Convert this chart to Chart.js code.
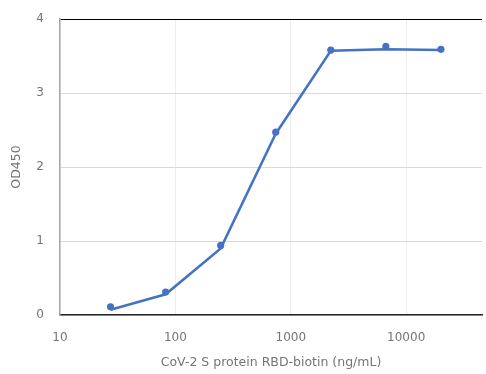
<!DOCTYPE html>
<html>
<head>
<meta charset="utf-8">
<script src="https://cdn.jsdelivr.net/npm/chart.js@4"></script>
<style>
  html, body { margin: 0; padding: 0; background: #fff; }
  #wrap { width: 486px; height: 374px; position: relative; }
</style>
</head>
<body>
<div id="wrap"><canvas id="graph"></canvas></div>
<script>
// concentrations (ng/mL), 3-fold dilution
var conc = [27.4, 82.3, 246.9, 740.7, 2222, 6667, 20000];
// measured OD450 (markers)
var od = [0.11, 0.31, 0.94, 2.47, 3.58, 3.63, 3.59];
// trend line drawn through the points
var odLine = [0.07, 0.28, 0.90, 2.45, 3.57, 3.59, 3.58];
var xTicks = [10, 100, 1000, 10000];
var yTicks = [0, 1, 2, 3, 4];

var blue = "#4472C4";
var textGray = "#757575";

function pts(ys) {
  return conc.map(function (c, i) { return { x: c, y: ys[i] }; });
}

var ctx = document.querySelector("#graph");
var graph = new Chart(ctx, {
  type: "scatter",
  data: {
    datasets: [
      {
        label: "line",
        data: pts(odLine),
        showLine: true,
        borderColor: blue,
        borderWidth: 2.5,
        pointRadius: 0,
        fill: false,
      },
      {
        label: "OD450",
        data: pts(od),
        backgroundColor: blue,
        borderColor: blue,
        pointRadius: 3.6,
        borderWidth: 0,
      },
    ],
  },
  options: {
    responsive: true,
    maintainAspectRatio: false,
    animation: false,
    layout: { padding: { top: 19, right: 0, left: 0, bottom: 0 } },
    plugins: { legend: { display: false }, tooltip: { enabled: false } },
    scales: {
      x: {
        type: "logarithmic",
        min: 10,
        max: 45400,
        afterBuildTicks: function (axis) {
          axis.ticks = xTicks.map(function (v) { return { value: v }; });
        },
        afterFit: function (axis) {
          axis.height = 59;
          axis.paddingRight = 0;
        },
        border: { color: "#262626", width: 1.5 },
        grid: { color: "#eeeeee", lineWidth: 1, drawTicks: false },
        ticks: {
          color: textGray,
          font: { family: "DejaVu Sans", size: 12 },
          padding: 16,
          maxRotation: 0,
          autoSkip: false,
          callback: function (v) { return String(v); },
        },
        title: {
          display: true,
          text: "CoV-2 S protein RBD-biotin (ng/mL)",
          color: textGray,
          font: { family: "DejaVu Sans", size: 12.5 },
          padding: { top: 12 },
        },
      },
      y: {
        min: 0,
        max: 4,
        afterBuildTicks: function (axis) {
          axis.ticks = yTicks.map(function (v) { return { value: v }; });
        },
        afterFit: function (axis) {
          axis.width = 60;
          axis.paddingTop = 0;
        },
        border: { color: "#a6a6a6", width: 1.5 },
        grid: {
          color: function (c) { return c.tick && c.tick.value === 4 ? "#000" : "#d9d9d9"; },
          lineWidth: 1,
          drawTicks: false,
        },
        ticks: {
          color: textGray,
          font: { family: "DejaVu Sans", size: 12 },
          padding: 16,
        },
        title: {
          display: true,
          text: "OD450",
          color: textGray,
          font: { family: "DejaVu Sans", size: 12.5 },
          padding: { top: 9, bottom: 0 },
        },
      },
    },
  },
});
</script>
</body>
</html>
